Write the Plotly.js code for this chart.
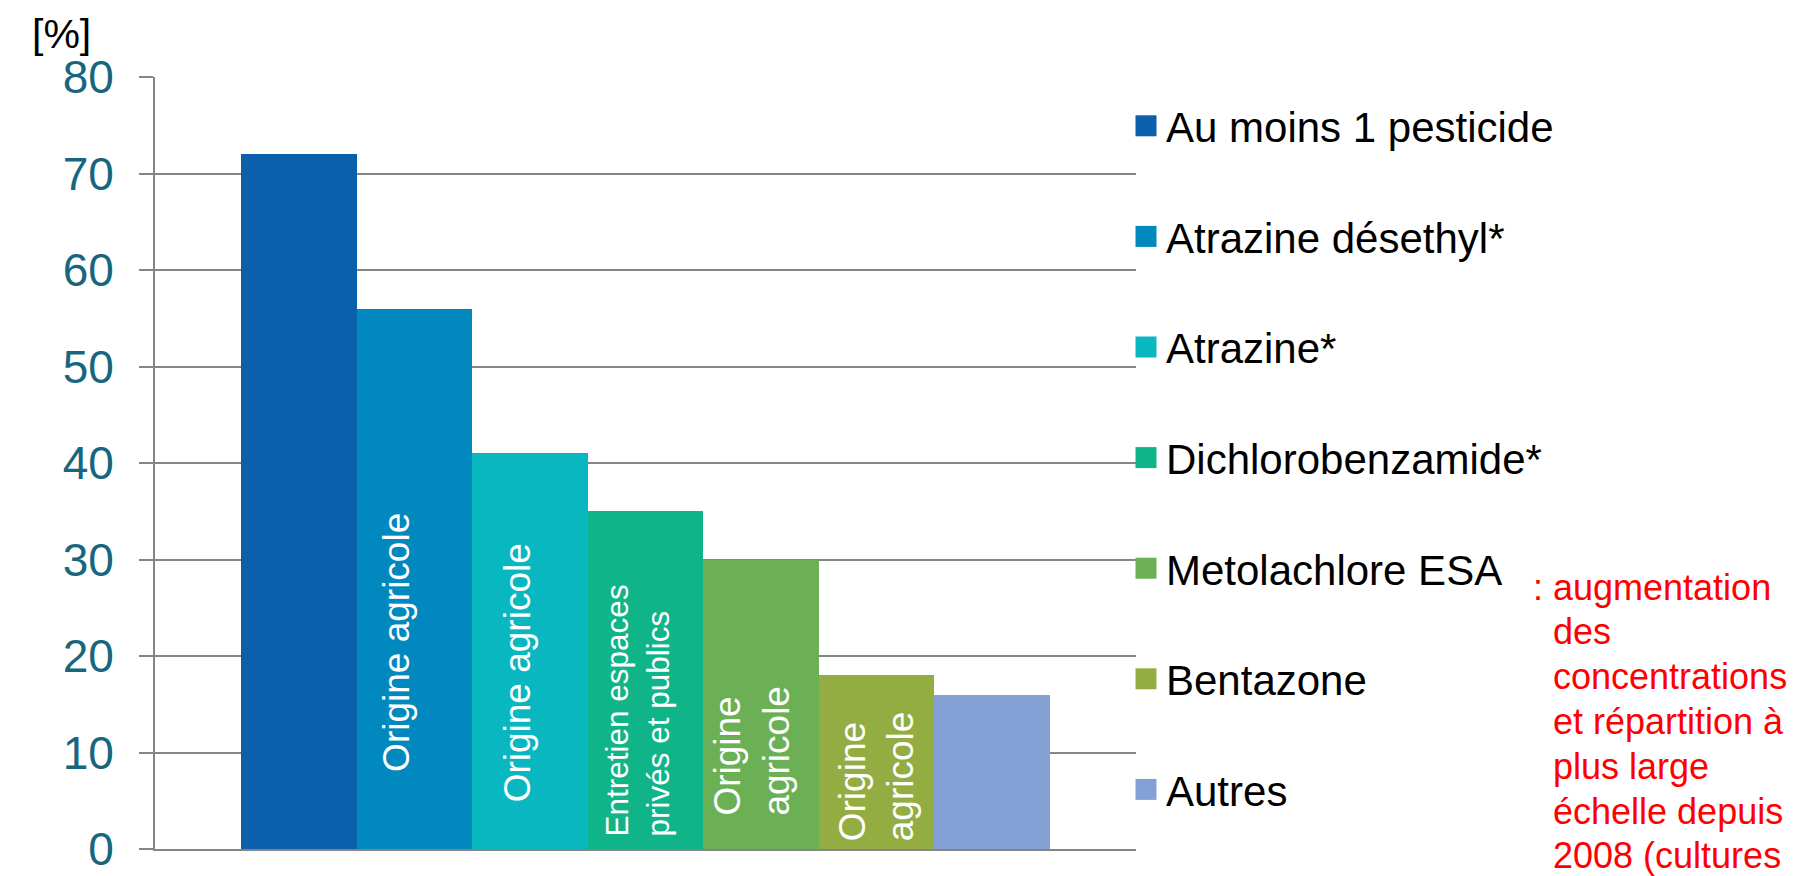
<!DOCTYPE html>
<html>
<head>
<meta charset="utf-8">
<script src="https://cdn.plot.ly/plotly-3.0.1.min.js"></script>
<style>
  html, body { margin: 0; padding: 0; background: #ffffff; }
  #chart { width: 1798px; height: 876px; }
</style>
</head>
<body>
<div id="chart"></div>
<script>
// ---- data ----
const categories = ["Au moins 1 pesticide", "Atrazine désethyl*", "Atrazine*", "Dichlorobenzamide*", "Metolachlore ESA", "Bentazone", "Autres"];
const values = [72, 56, 41, 35, 30, 18, 16];
const barNotes = ["", "Origine agricole", "Origine agricole", "Entretien espaces<br>privés et publics", "Origine<br>agricole", "Origine<br>agricole", ""];
const yTicks = [0, 10, 20, 30, 40, 50, 60, 70, 80];
const unitLabel = "[%]";
const sideNoteLines = ["augmentation", "des", "concentrations", "et répartition à", "plus large", "échelle depuis", "2008 (cultures"];

// ---- styles / layout helpers ----
const colors = ["#0C5FAB", "#0088BF", "#09B7C0", "#0FB588", "#6CB055", "#93AD42", "#84A0D4"];
const noteY = [0, 21.4, 18.3, 14.3, 10.2, 7.5, 0];
const noteSize = [37, 37, 37, 31.5, 37, 37, 37];
const noteShift = [0, -18, -13, -8, -9, 0, 0];
const sans = "'Liberation Sans', Arial, sans-serif";
const grid = "#858585";

const W = 1798, H = 876;
const M = { l: 155, r: 662, t: 77, b: 27 };
const plotW = W - M.l - M.r, plotH = H - M.t - M.b;
const px2paperX = px => (px - M.l) / plotW;
const px2paperY = py => (H - M.b - py) / plotH;

const traces = categories.map((c, i) => ({
  type: "bar",
  x: [c],
  y: [values[i]],
  name: c,
  width: 1,
  legendgroup: "g" + i,
  marker: { color: colors[i], line: { width: 0 } },
  hoverinfo: "name+y"
}));

const annotations = [];
barNotes.forEach((t, i) => {
  if (!t) return;
  annotations.push({
    xref: "x", yref: "y", x: categories[i], y: noteY[i],
    text: t, textangle: -90, showarrow: false, align: "left",
    xanchor: "center", yanchor: "middle", xshift: noteShift[i],
    font: { family: sans, size: noteSize[i], color: "#ffffff" }
  });
});
annotations.push({
  xref: "paper", yref: "paper", x: px2paperX(30), y: px2paperY(34), xanchor: "left", yanchor: "middle",
  text: unitLabel, showarrow: false, font: { family: sans, size: 41, color: "#000000" }
});
annotations.push({
  xref: "paper", yref: "paper", x: px2paperX(1531), y: px2paperY(587), xanchor: "left", yanchor: "middle",
  text: ":", showarrow: false, font: { family: sans, size: 36, color: "#FF0000" }
});
sideNoteLines.forEach((t, k) => {
  annotations.push({
    xref: "paper", yref: "paper", x: px2paperX(1551), y: px2paperY(587 + k * 44.8),
    xanchor: "left", yanchor: "middle", align: "left",
    text: t, showarrow: false, font: { family: sans, size: 36, color: "#FF0000" }
  });
});

const layout = {
  width: W, height: H,
  margin: { l: M.l, r: M.r, t: M.t, b: M.b, pad: 0 },
  paper_bgcolor: "#ffffff", plot_bgcolor: "#ffffff",
  barmode: "overlay", bargap: 0,
  showlegend: true,
  legend: {
    x: px2paperX(1126), xanchor: "left", y: px2paperY(92), yanchor: "top",
    bgcolor: "rgba(0,0,0,0)", borderwidth: 0,
    tracegroupgap: 53, traceorder: "grouped",
    font: { family: sans, size: 42, color: "#000000" }
  },
  xaxis: {
    type: "category", categoryarray: categories, range: [-1.245, 7.245],
    showticklabels: false, ticks: "", showgrid: false, zeroline: false,
    showline: true, linecolor: grid, linewidth: 2, fixedrange: true
  },
  yaxis: {
    range: [0, 80], tickvals: yTicks, ticktext: yTicks.map(String),
    showgrid: true, gridcolor: grid, gridwidth: 2, zeroline: false,
    showline: true, linecolor: grid, linewidth: 2,
    ticks: "outside", ticklen: 14, tickcolor: grid, tickwidth: 2,
    ticklabelstandoff: 16,
    tickfont: { family: sans, size: 46, color: "#17667E" }, fixedrange: true
  },
  annotations: annotations
};

Plotly.newPlot("chart", traces, layout, { displayModeBar: false, staticPlot: true }).then(() => {
  // enlarge the legend swatches (keep plotly's own placement transform)
  document.querySelectorAll("#chart .legend .legendpoints path").forEach(p => {
    p.setAttribute("d", "M10.5,10.5H-10.5V-10.5H10.5Z");
  });
});
</script>
</body>
</html>
